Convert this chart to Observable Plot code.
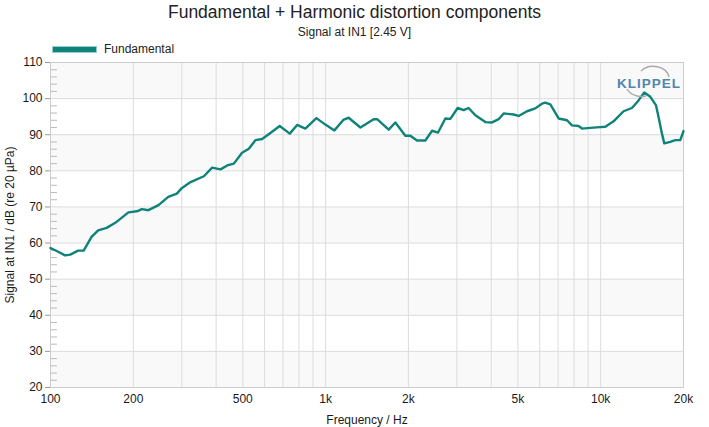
<!DOCTYPE html>
<html><head><meta charset="utf-8">
<script src="https://cdn.jsdelivr.net/npm/d3@7"></script>
<script src="https://cdn.jsdelivr.net/npm/@observablehq/plot@0.6"></script>
<style>
body{margin:0;background:#fff;font-family:"Liberation Sans",Arial,sans-serif;color:#222}
#wrap{position:relative;width:709px;height:427px}
#hdr{position:relative;width:709px;height:56px}
.t{position:absolute;left:0;width:709px;text-align:center;white-space:nowrap}
#logo{position:absolute;left:0;top:0;pointer-events:none}
</style></head>
<body>
<div id="wrap">
<div id="hdr">
  <div class="t" style="top:2px;font-size:17.5px;line-height:20px">Fundamental + Harmonic distortion components</div>
  <div class="t" style="top:25px;font-size:12px;line-height:14px">Signal at IN1 [2.45 V]</div>
  <div style="position:absolute;left:52px;top:46px;width:43px;height:5px;background:#0f8379;border:1px solid #9cc"></div>
  <div style="position:absolute;left:104px;top:42px;font-size:12px;line-height:14px">Fundamental</div>
</div>
<div id="chart"></div>
<svg id="logo" width="709" height="427">
  <path d="M641,71 A16,13 0 0 1 669,77" fill="none" stroke="#aaa" stroke-width="1.5"/>
  <path d="M627,89 A16,13 0 0 0 646,96" fill="none" stroke="#aaa" stroke-width="1.5"/>
  <text x="649" y="88" text-anchor="middle" font-family="Liberation Sans, Arial" font-weight="bold" font-size="13.5" letter-spacing="1" fill="#4f86b0">KLIPPEL</text>
</svg>
</div>
<script>
const freqs = [100,104,113,118,126,132,141,149,160,172,192,206,215,227,247,268,288,300,323,361,387,415,439,464,497,526,556,588,630,681,741,788,844,926,998,1076,1164,1213,1338,1495,1539,1696,1793,1950,2033,2150,2305,2438,2563,2725,2841,3020,3176,3311,3502,3808,4027,4256,4439,4825,5031,5397,5785,6118,6290,6560,7031,7543,7865,8311,8551,9168,9966,10390,11140,12110,12990,13730,14400,15150,15880,16230,16700,17030,17900,18670,19470,20000];
const levels = [58.6,58.0,56.6,56.8,57.9,57.9,61.7,63.5,64.2,65.6,68.5,68.8,69.4,69.1,70.5,72.8,73.7,75.2,76.9,78.5,80.9,80.4,81.5,82.0,85.0,86.1,88.5,88.8,90.5,92.4,90.3,92.7,91.7,94.6,92.8,91.2,94.2,94.7,92.0,94.3,94.3,91.4,93.4,89.7,89.7,88.4,88.4,91.1,90.6,94.5,94.4,97.4,96.8,97.4,95.4,93.5,93.4,94.3,95.9,95.6,95.2,96.5,97.3,98.6,98.9,98.4,94.5,94.0,92.6,92.4,91.7,91.9,92.1,92.2,93.7,96.5,97.4,99.5,101.7,100.5,98.2,94.9,90.3,87.6,88.0,88.5,88.5,91.0];
const xTicks = [100,200,500,1000,2000,5000,10000,20000];
const xTickLabels = ["100","200","500","1k","2k","5k","10k","20k"];
const xGrid = [100,200,300,400,500,600,700,800,900,1000,2000,3000,4000,5000,6000,7000,8000,9000,10000,20000];
const yTicks = [20,30,40,50,60,70,80,90,100,110];
const yMinor = d3.range(20, 110, 2);
const bands = [[20,30],[40,50],[60,70],[80,90],[100,110]];

const data = freqs.map((f,i)=>({f, v: levels[i]}));
const W = 709, H = 371, ML = 50, MR = 26, MT = 6, MB = 40;
const plotW = W - ML - MR;

const chart = Plot.plot({
  width: W, height: H,
  marginLeft: ML, marginRight: MR, marginTop: MT, marginBottom: MB,
  style: {fontFamily: '"Liberation Sans", Arial, sans-serif', fontSize: "12px", color: "#1a1a1a", background: "#fff"},
  x: {type: "log", domain: [100, 20000]},
  y: {domain: [20, 110]},
  marks: [
    Plot.rect(bands, {x1: () => 100, x2: () => 20000, y1: d => d[0], y2: d => d[1], fill: "#f9f9f9"}),
    Plot.ruleX(xGrid, {stroke: "#dcdcdc", strokeWidth: 1}),
    Plot.ruleY(yTicks, {stroke: "#dcdcdc", strokeWidth: 1}),
    Plot.tickY(yMinor.filter(v => v % 10 !== 0), {stroke: "#bbbbbb", insetRight: plotW - 7}),
    Plot.frame({stroke: "#cccccc"}),
    Plot.line(data, {x: "f", y: "v", stroke: "#0f8379", strokeWidth: 2.4, strokeLinejoin: "round"}),
    Plot.axisX({ticks: xTicks, tickFormat: (d) => xTickLabels[xTicks.indexOf(d)], tickSize: 0, tickPadding: 7, fontSize: 12,
      label: "Frequency / Hz", labelAnchor: "center", labelOffset: 36, labelArrow: "none"}),
    Plot.axisY({ticks: yTicks, tickFormat: d => String(d), tickSize: 5, tickPadding: 3, stroke: "#999", fontSize: 12,
      label: "Signal at IN1 / dB (re 20 µPa)", labelAnchor: "center", labelOffset: 45, labelArrow: "none"})
  ]
});
document.getElementById("chart").appendChild(chart);
</script>
</body></html>
